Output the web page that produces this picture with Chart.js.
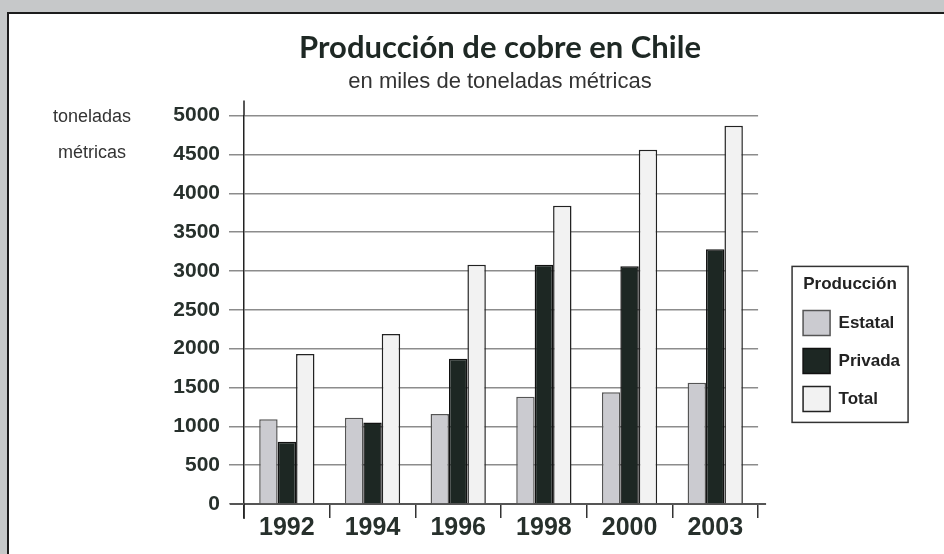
<!DOCTYPE html>
<html>
<head>
<meta charset="utf-8">
<script src="https://cdn.jsdelivr.net/npm/chart.js@4.4.1/dist/chart.umd.min.js"></script>
<style>
  html, body { margin: 0; padding: 0; }
  body { width: 944px; height: 554px; overflow: hidden; position: relative; background: #c6c8c9; }
  #frame { position: absolute; left: 7px; top: 12px; width: 980px; height: 580px; background: #fff; border: 2px solid #1c1c1c; }
  #canvas { position: absolute; left: 0; top: 0; }
</style>
</head>
<body>
<div id="frame"></div>
<canvas id="canvas" width="944" height="554"></canvas>
<script>
// MARK: Data
const years = ['1992', '1994', '1996', '1998', '2000', '2003'];
const estatal = [1090, 1110, 1160, 1380, 1440, 1560];
const privada = [800, 1050, 1870, 3080, 3060, 3280];
const total = [1930, 2190, 3080, 3840, 4560, 4870];
const yAxisTitle = ['toneladas', 'métricas'];

Chart.defaults.font.family = '"Liberation Sans", Arial, sans-serif';

// MARK: Small plugins (axis caption, axis overhang, legend frame)
const axisCaption = {
  id: 'axisCaption',
  afterDraw(chart) {
    const ctx = chart.ctx;
    ctx.save();
    ctx.font = '18px "Liberation Sans", Arial, sans-serif';
    ctx.fillStyle = '#333';
    ctx.textAlign = 'center';
    ctx.textBaseline = 'middle';
    yAxisTitle.forEach((t, i) => ctx.fillText(t, 92, 117 + i * 36));
    ctx.restore();
  }
};

// the printed axes run a little past the plot area
const axisOverhang = {
  id: 'axisOverhang',
  afterDraw(chart) {
    const { left, right, top, bottom } = chart.chartArea;
    const ctx = chart.ctx;
    ctx.save();
    ctx.strokeStyle = '#222';
    ctx.lineWidth = 1.5;
    ctx.beginPath();
    ctx.moveTo(left, top - 15);
    ctx.lineTo(left, top);
    ctx.moveTo(left, bottom);
    ctx.lineTo(left, bottom + 15);
    ctx.stroke();
    ctx.strokeStyle = '#555';
    ctx.lineWidth = 2;
    ctx.beginPath();
    ctx.moveTo(left - 14, bottom);
    ctx.lineTo(left, bottom);
    ctx.moveTo(right, bottom);
    ctx.lineTo(right + 8, bottom);
    ctx.stroke();
    ctx.restore();
  }
};

const legendFrame = {
  id: 'legendFrame',
  afterDraw(chart) {
    const boxes = chart.legend.legendHitBoxes;
    if (!boxes || !boxes.length) return;
    const first = boxes[0];
    const last = boxes[boxes.length - 1];
    const top = first.top - 44;
    const bottom = last.top + last.height + 11;
    const ctx = chart.ctx;
    ctx.save();
    ctx.strokeStyle = '#333';
    ctx.lineWidth = 1.5;
    ctx.strokeRect(first.left - 11, top, 116, bottom - top);
    ctx.restore();
  }
};

// MARK: Chart
const tickColor = '#27302c';
const ctx = document.getElementById('canvas').getContext('2d');

const chart = new Chart(ctx, {
  type: 'bar',
  data: {
    labels: years,
    datasets: [
      {
        label: 'Estatal',
        data: estatal,
        backgroundColor: '#cbcbd0',
        borderColor: '#555',
        borderWidth: 1.5
      },
      {
        label: 'Privada',
        data: privada,
        backgroundColor: '#1d2723',
        borderColor: '#111',
        borderWidth: 1.5
      },
      {
        label: 'Total',
        data: total,
        backgroundColor: '#f2f2f2',
        borderColor: '#222',
        borderWidth: 1.5
      }
    ]
  },
  options: {
    responsive: false,
    animation: false,
    datasets: {
      bar: {
        categoryPercentage: 0.645,
        barPercentage: 1.0
      }
    },
    layout: {
      padding: { left: 90, right: 34, top: 0, bottom: 15 }
    },
    plugins: {
      title: {
        display: true,
        text: 'Producción de cobre en Chile',
        color: '#1e2824',
        font: { family: 'Lato', size: 31, weight: 'bold' },
        padding: { top: 29, bottom: 0 }
      },
      subtitle: {
        display: true,
        text: 'en miles de toneladas métricas',
        color: '#333',
        font: { size: 22 },
        padding: { top: 3, bottom: 20 }
      },
      legend: {
        position: 'right',
        align: 'start',
        title: {
          display: true,
          text: 'Producción',
          color: '#222',
          font: { size: 17, weight: 'bold' },
          padding: { top: 276, bottom: 1 }
        },
        labels: {
          boxWidth: 27,
          boxHeight: 25,
          padding: 13,
          color: '#222',
          font: { size: 17, weight: 'bold' }
        }
      },
      tooltip: { enabled: false }
    },
    scales: {
      x: {
        grid: {
          display: true,
          drawOnChartArea: false,
          drawTicks: true,
          tickLength: 14,
          color: '#333',
          lineWidth: 1.5
        },
        border: { display: true, color: '#555', width: 2 },
        ticks: {
          padding: -2,
          color: tickColor,
          font: { size: 25, weight: 'bold', lineHeight: 1 }
        }
      },
      y: {
        min: 0,
        max: 5000,
        ticks: {
          stepSize: 500,
          padding: 9,
          color: tickColor,
          font: { size: 21, weight: 'bold' },
          callback: v => String(v)
        },
        grid: { color: '#8c8c8c', lineWidth: 1.5, tickLength: 15 },
        border: { display: true, color: '#222', width: 1.5 },
        afterFit(s) { s.width = 154; }
      },
      gap: {
        position: 'right',
        display: true,
        grid: { display: false },
        border: { display: false },
        ticks: { display: false },
        afterFit(s) { s.width = 32; }
      }
    }
  },
  plugins: [axisCaption, axisOverhang, legendFrame]
});
</script>
</body>
</html>
